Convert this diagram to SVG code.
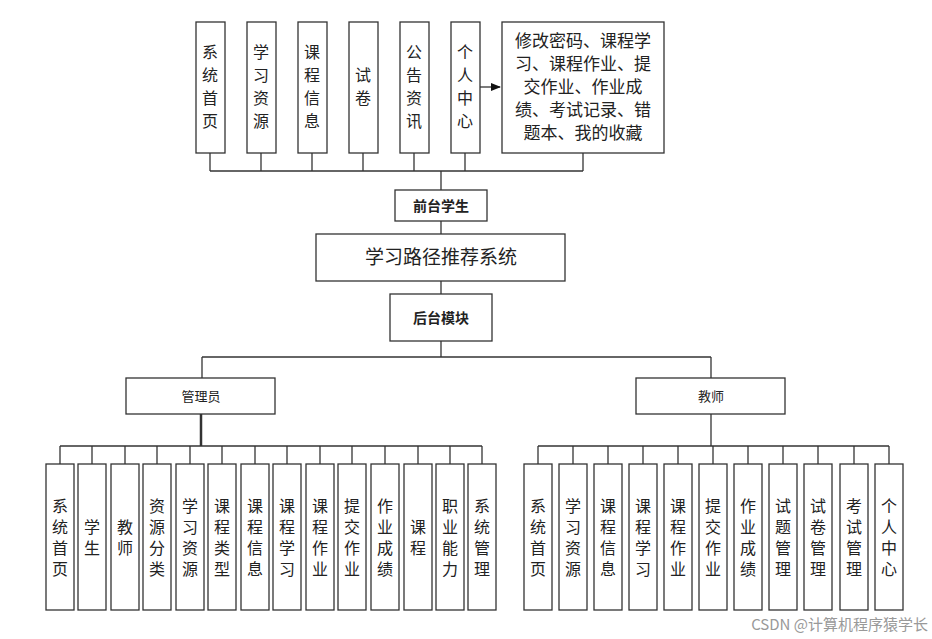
<svg xmlns="http://www.w3.org/2000/svg" width="932" height="639" viewBox="0 0 932 639">
<style>
rect{fill:#fff;stroke:#333;stroke-width:1.3}
text{font-family:"Noto Sans CJK SC",sans-serif;fill:#222;text-anchor:middle}
.v{font-size:16px}
.b{font-size:14px;font-weight:bold}
.c line,.c polyline{stroke:#333;stroke-width:1.3;fill:none}
</style>
<defs><marker id="ar" markerWidth="10" markerHeight="10" refX="9" refY="5" orient="auto" markerUnits="userSpaceOnUse"><path d="M0,1 L10,5 L0,9Z" fill="#111"/></marker></defs>
<rect width="932" height="639" style="fill:#fff;stroke:none"/>
<g class="c" id="connectors">
<line x1="210" y1="153" x2="210" y2="171"/><line x1="261" y1="153" x2="261" y2="171"/><line x1="312" y1="153" x2="312" y2="171"/><line x1="363" y1="153" x2="363" y2="171"/><line x1="414" y1="153" x2="414" y2="171"/><line x1="465" y1="153" x2="465" y2="171"/><line x1="583" y1="153" x2="583" y2="171"/>
<line x1="210" y1="171" x2="583" y2="171"/>
<line x1="441" y1="171" x2="441" y2="190"/>
<line x1="441" y1="221" x2="441" y2="234"/>
<line x1="441" y1="281" x2="441" y2="294"/>
<line x1="441" y1="341" x2="441" y2="357"/>
<line x1="202" y1="357" x2="711" y2="357"/>
<line x1="202" y1="357" x2="202" y2="378"/><line x1="711" y1="357" x2="711" y2="378"/>
<line x1="480" y1="87" x2="500" y2="87" marker-end="url(#ar)"/>
<line x1="201" y1="414" x2="201" y2="446" style="stroke-width:2.5"/>
<line x1="60" y1="446" x2="482" y2="446"/>
<line x1="711" y1="414" x2="711" y2="446"/>
<line x1="538" y1="446" x2="889" y2="446"/>
<line x1="60" y1="446" x2="60" y2="464"/><line x1="92" y1="446" x2="92" y2="464"/><line x1="125" y1="446" x2="125" y2="464"/><line x1="157" y1="446" x2="157" y2="464"/><line x1="190" y1="446" x2="190" y2="464"/><line x1="222" y1="446" x2="222" y2="464"/><line x1="255" y1="446" x2="255" y2="464"/><line x1="287" y1="446" x2="287" y2="464"/><line x1="320" y1="446" x2="320" y2="464"/><line x1="352" y1="446" x2="352" y2="464"/><line x1="385" y1="446" x2="385" y2="464"/><line x1="418" y1="446" x2="418" y2="464"/><line x1="450" y1="446" x2="450" y2="464"/><line x1="482" y1="446" x2="482" y2="464"/>
<line x1="538" y1="446" x2="538" y2="464"/><line x1="573" y1="446" x2="573" y2="464"/><line x1="608" y1="446" x2="608" y2="464"/><line x1="643" y1="446" x2="643" y2="464"/><line x1="678" y1="446" x2="678" y2="464"/><line x1="713" y1="446" x2="713" y2="464"/><line x1="748" y1="446" x2="748" y2="464"/><line x1="783" y1="446" x2="783" y2="464"/><line x1="818" y1="446" x2="818" y2="464"/><line x1="854" y1="446" x2="854" y2="464"/><line x1="889" y1="446" x2="889" y2="464"/>
</g>
<!-- top -->
<g id="t1"><rect x="196" y="22" width="29" height="131"/><text class="v" x="210"><tspan x="210" y="58">系</tspan><tspan x="210" y="81">统</tspan><tspan x="210" y="104">首</tspan><tspan x="210" y="127">页</tspan></text></g>
<g id="t2"><rect x="247" y="22" width="29" height="131"/><text class="v"><tspan x="261" y="58">学</tspan><tspan x="261" y="81">习</tspan><tspan x="261" y="104">资</tspan><tspan x="261" y="127">源</tspan></text></g>
<g id="t3"><rect x="298" y="22" width="29" height="131"/><text class="v"><tspan x="312" y="58">课</tspan><tspan x="312" y="81">程</tspan><tspan x="312" y="104">信</tspan><tspan x="312" y="127">息</tspan></text></g>
<g id="t4"><rect x="349" y="22" width="29" height="131"/><text class="v"><tspan x="363" y="81">试</tspan><tspan x="363" y="104">卷</tspan></text></g>
<g id="t5"><rect x="400" y="22" width="29" height="131"/><text class="v"><tspan x="414" y="58">公</tspan><tspan x="414" y="81">告</tspan><tspan x="414" y="104">资</tspan><tspan x="414" y="127">讯</tspan></text></g>
<g id="t6"><rect x="451" y="22" width="29" height="131"/><text class="v"><tspan x="465" y="58">个</tspan><tspan x="465" y="81">人</tspan><tspan x="465" y="104">中</tspan><tspan x="465" y="127">心</tspan></text></g>
<g id="t7"><rect x="502" y="22" width="162" height="131"/><text style="font-size:17px"><tspan x="583" y="47">修改密码、课程学</tspan><tspan x="583" y="70">习、课程作业、提</tspan><tspan x="583" y="93">交作业、作业成</tspan><tspan x="583" y="116">绩、考试记录、错</tspan><tspan x="583" y="139">题本、我的收藏</tspan></text></g>
<g id="front"><rect x="395" y="190" width="92" height="31"/><text class="b" x="441" y="211">前台学生</text></g>
<g id="sys"><rect x="316" y="234" width="249" height="47"/><text x="441" y="264" style="font-size:19px">学习路径推荐系统</text></g>
<g id="back"><rect x="390" y="294" width="102" height="47"/><text class="b" x="441" y="323">后台模块</text></g>
<g id="admin"><rect x="126" y="378" width="149" height="36"/><text x="201" y="401" style="font-size:13px">管理员</text></g>
<g id="teacher"><rect x="636" y="378" width="149" height="36"/><text x="711" y="401" style="font-size:13px">教师</text></g>
<!-- admin children -->
<g id="a1"><rect x="46" y="464" width="28" height="146"/><text class="v"><tspan x="60" y="512">系</tspan><tspan x="60" y="533">统</tspan><tspan x="60" y="554">首</tspan><tspan x="60" y="575">页</tspan></text></g>
<g id="a2"><rect x="78" y="464" width="28" height="146"/><text class="v"><tspan x="92" y="533">学</tspan><tspan x="92" y="554">生</tspan></text></g>
<g id="a3"><rect x="111" y="464" width="28" height="146"/><text class="v"><tspan x="125" y="533">教</tspan><tspan x="125" y="554">师</tspan></text></g>
<g id="a4"><rect x="143" y="464" width="28" height="146"/><text class="v"><tspan x="157" y="512">资</tspan><tspan x="157" y="533">源</tspan><tspan x="157" y="554">分</tspan><tspan x="157" y="575">类</tspan></text></g>
<g id="a5"><rect x="176" y="464" width="28" height="146"/><text class="v"><tspan x="190" y="512">学</tspan><tspan x="190" y="533">习</tspan><tspan x="190" y="554">资</tspan><tspan x="190" y="575">源</tspan></text></g>
<g id="a6"><rect x="208" y="464" width="28" height="146"/><text class="v"><tspan x="222" y="512">课</tspan><tspan x="222" y="533">程</tspan><tspan x="222" y="554">类</tspan><tspan x="222" y="575">型</tspan></text></g>
<g id="a7"><rect x="241" y="464" width="28" height="146"/><text class="v"><tspan x="255" y="512">课</tspan><tspan x="255" y="533">程</tspan><tspan x="255" y="554">信</tspan><tspan x="255" y="575">息</tspan></text></g>
<g id="a8"><rect x="273" y="464" width="28" height="146"/><text class="v"><tspan x="287" y="512">课</tspan><tspan x="287" y="533">程</tspan><tspan x="287" y="554">学</tspan><tspan x="287" y="575">习</tspan></text></g>
<g id="a9"><rect x="306" y="464" width="28" height="146"/><text class="v"><tspan x="320" y="512">课</tspan><tspan x="320" y="533">程</tspan><tspan x="320" y="554">作</tspan><tspan x="320" y="575">业</tspan></text></g>
<g id="a10"><rect x="338" y="464" width="28" height="146"/><text class="v"><tspan x="352" y="512">提</tspan><tspan x="352" y="533">交</tspan><tspan x="352" y="554">作</tspan><tspan x="352" y="575">业</tspan></text></g>
<g id="a11"><rect x="371" y="464" width="28" height="146"/><text class="v"><tspan x="385" y="512">作</tspan><tspan x="385" y="533">业</tspan><tspan x="385" y="554">成</tspan><tspan x="385" y="575">绩</tspan></text></g>
<g id="a12"><rect x="404" y="464" width="28" height="146"/><text class="v"><tspan x="418" y="533">课</tspan><tspan x="418" y="554">程</tspan></text></g>
<g id="a13"><rect x="436" y="464" width="28" height="146"/><text class="v"><tspan x="450" y="512">职</tspan><tspan x="450" y="533">业</tspan><tspan x="450" y="554">能</tspan><tspan x="450" y="575">力</tspan></text></g>
<g id="a14"><rect x="468" y="464" width="28" height="146"/><text class="v"><tspan x="482" y="512">系</tspan><tspan x="482" y="533">统</tspan><tspan x="482" y="554">管</tspan><tspan x="482" y="575">理</tspan></text></g>
<!-- teacher children -->
<g id="e1"><rect x="524" y="464" width="28" height="146"/><text class="v"><tspan x="538" y="512">系</tspan><tspan x="538" y="533">统</tspan><tspan x="538" y="554">首</tspan><tspan x="538" y="575">页</tspan></text></g>
<g id="e2"><rect x="559" y="464" width="28" height="146"/><text class="v"><tspan x="573" y="512">学</tspan><tspan x="573" y="533">习</tspan><tspan x="573" y="554">资</tspan><tspan x="573" y="575">源</tspan></text></g>
<g id="e3"><rect x="594" y="464" width="28" height="146"/><text class="v"><tspan x="608" y="512">课</tspan><tspan x="608" y="533">程</tspan><tspan x="608" y="554">信</tspan><tspan x="608" y="575">息</tspan></text></g>
<g id="e4"><rect x="629" y="464" width="28" height="146"/><text class="v"><tspan x="643" y="512">课</tspan><tspan x="643" y="533">程</tspan><tspan x="643" y="554">学</tspan><tspan x="643" y="575">习</tspan></text></g>
<g id="e5"><rect x="664" y="464" width="28" height="146"/><text class="v"><tspan x="678" y="512">课</tspan><tspan x="678" y="533">程</tspan><tspan x="678" y="554">作</tspan><tspan x="678" y="575">业</tspan></text></g>
<g id="e6"><rect x="699" y="464" width="28" height="146"/><text class="v"><tspan x="713" y="512">提</tspan><tspan x="713" y="533">交</tspan><tspan x="713" y="554">作</tspan><tspan x="713" y="575">业</tspan></text></g>
<g id="e7"><rect x="734" y="464" width="28" height="146"/><text class="v"><tspan x="748" y="512">作</tspan><tspan x="748" y="533">业</tspan><tspan x="748" y="554">成</tspan><tspan x="748" y="575">绩</tspan></text></g>
<g id="e8"><rect x="769" y="464" width="28" height="146"/><text class="v"><tspan x="783" y="512">试</tspan><tspan x="783" y="533">题</tspan><tspan x="783" y="554">管</tspan><tspan x="783" y="575">理</tspan></text></g>
<g id="e9"><rect x="804" y="464" width="28" height="146"/><text class="v"><tspan x="818" y="512">试</tspan><tspan x="818" y="533">卷</tspan><tspan x="818" y="554">管</tspan><tspan x="818" y="575">理</tspan></text></g>
<g id="e10"><rect x="840" y="464" width="28" height="146"/><text class="v"><tspan x="854" y="512">考</tspan><tspan x="854" y="533">试</tspan><tspan x="854" y="554">管</tspan><tspan x="854" y="575">理</tspan></text></g>
<g id="e11"><rect x="875" y="464" width="28" height="146"/><text class="v"><tspan x="889" y="512">个</tspan><tspan x="889" y="533">人</tspan><tspan x="889" y="554">中</tspan><tspan x="889" y="575">心</tspan></text></g>
<text x="928" y="630" style="font-size:15px;fill:#999;text-anchor:end">CSDN @计算机程序猿学长</text>
</svg>
